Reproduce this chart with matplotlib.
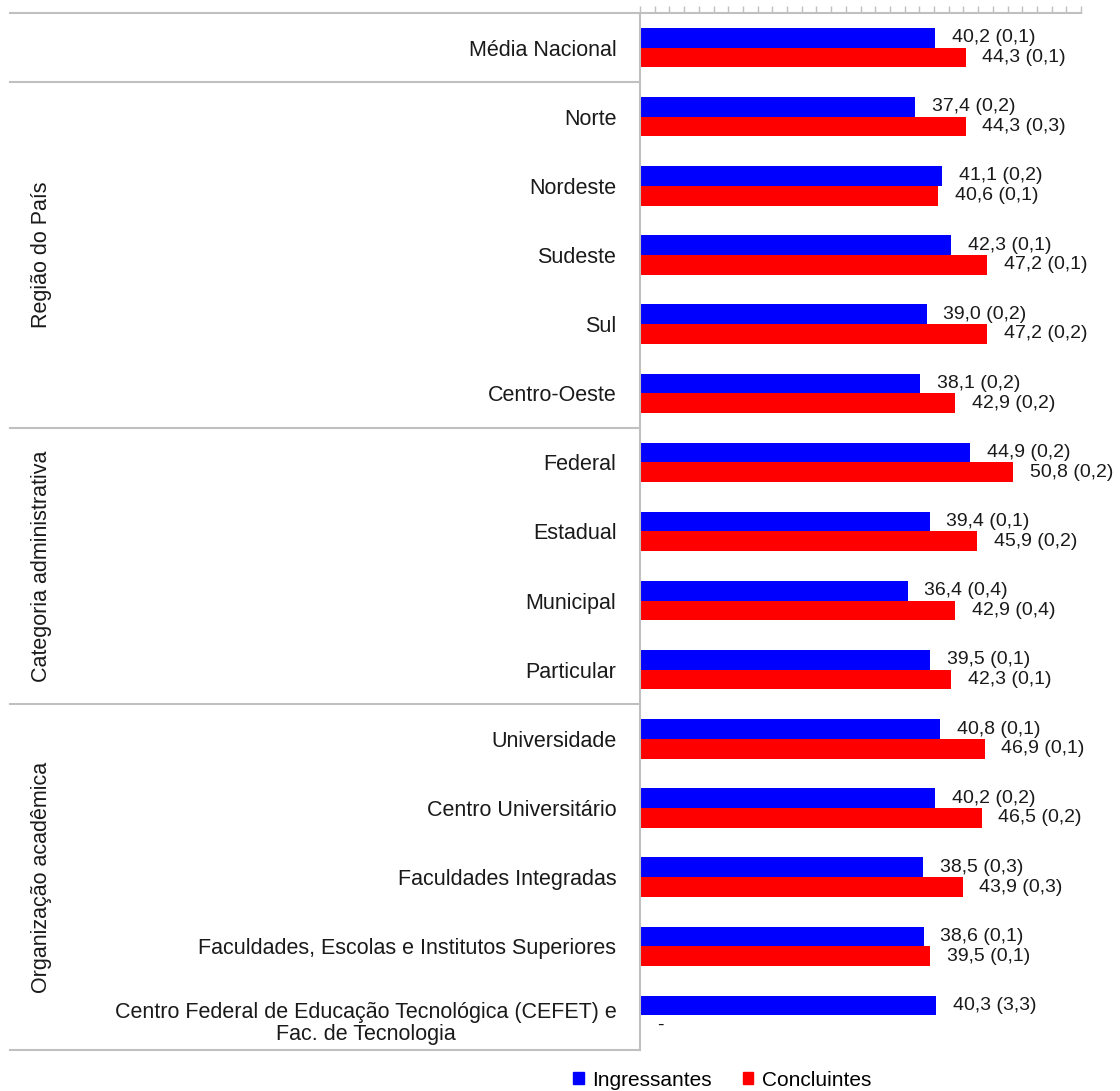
import numpy as np
import matplotlib
matplotlib.use("Agg")
import matplotlib.pyplot as plt
from matplotlib.lines import Line2D
from matplotlib.patches import Patch
import matplotlib.transforms as mtransforms

plt.rcParams['font.family'] = ['Liberation Sans', 'DejaVu Sans']

categories = ["Média Nacional", "Norte", "Nordeste", "Sudeste", "Sul", "Centro-Oeste",
              "Federal", "Estadual", "Municipal", "Particular",
              "Universidade", "Centro Universitário", "Faculdades Integradas",
              "Faculdades, Escolas e Institutos Superiores",
              "Centro Federal de Educação Tecnológica (CEFET) e\nFac. de Tecnologia"]
ingressantes = [40.2, 37.4, 41.1, 42.3, 39.0, 38.1, 44.9, 39.4, 36.4, 39.5, 40.8, 40.2, 38.5, 38.6, 40.3]
ingressantes_ep = [0.1, 0.2, 0.2, 0.1, 0.2, 0.2, 0.2, 0.1, 0.4, 0.1, 0.1, 0.2, 0.3, 0.1, 3.3]
concluintes = [44.3, 44.3, 40.6, 47.2, 47.2, 42.9, 50.8, 45.9, 42.9, 42.3, 46.9, 46.5, 43.9, 39.5, np.nan]
concluintes_ep = [0.1, 0.3, 0.1, 0.1, 0.2, 0.2, 0.2, 0.2, 0.4, 0.1, 0.1, 0.2, 0.3, 0.1, np.nan]
groups = ["Região do País", "Categoria administrativa", "Organização acadêmica"]
group_spans = [(1, 5), (6, 9), (10, 14)]
series_names = ["Ingressantes", "Concluintes"]

FS_CAT = 15.5
FS_VAL = 14
FS_LEG = 15
GRAY = "#c0c0c0"
TXT = "#1a1a1a"
W, H = 1120, 1091
fig = plt.figure(figsize=(W / 100, H / 100), dpi=100)
ax = fig.add_axes([640 / W, 1 - 1050 / H, 441 / W, (1050 - 13) / H])

y = np.arange(len(categories))
bh = 0.285
ax.barh(y - bh / 2, ingressantes, height=bh, color="#0000ff", label=series_names[0])
ax.barh(y + bh / 2, np.nan_to_num(concluintes), height=bh, color="#ff0000", label=series_names[1])


def fmt(v, e):
    if np.isnan(v):
        return "-"
    return f"{v:.1f} ({e:.1f})".replace(".", ",")


for i in range(len(categories)):
    ax.annotate(fmt(ingressantes[i], ingressantes_ep[i]), (ingressantes[i], y[i] - bh / 2),
                xytext=(12, 0), textcoords="offset points", va="center", ha="left",
                fontsize=FS_VAL, color=TXT)
    cv = 0 if np.isnan(concluintes[i]) else concluintes[i]
    ax.annotate(fmt(concluintes[i], concluintes_ep[i]), (cv, y[i] + bh / 2),
                xytext=(12, 0), textcoords="offset points", va="center", ha="left",
                fontsize=FS_VAL, color=TXT)

ax.set_xlim(0, 60)
ax.set_ylim(len(categories) - 0.5, -0.5)
ax.xaxis.tick_top()
ax.set_xticks(np.arange(0, 61, 2))
ax.tick_params(axis="x", length=5, width=1, color=GRAY, labeltop=False, labelbottom=False)
ax.set_yticks(y)
ax.set_yticklabels([c if "\n" not in c else "" for c in categories], fontsize=FS_CAT, color=TXT)
ax.tick_params(axis="y", length=0, pad=17)
# multi-line category label, placed slightly lower like the reference
for i, c in enumerate(categories):
    if "\n" in c:
        ax.annotate(c, xy=(0, y[i]), xycoords=("axes fraction", "data"),
                    xytext=(-17, -6), textcoords="offset points", ha="right", va="center",
                    multialignment="center", linespacing=1.05, fontsize=FS_CAT, color=TXT)
for s in ["bottom", "right"]:
    ax.spines[s].set_visible(False)
for s in ["left", "top"]:
    ax.spines[s].set_color(GRAY)
    ax.spines[s].set_linewidth(1.5)

# separator lines on the left
tr = mtransforms.blended_transform_factory(fig.transFigure, ax.transData)
for yb in [-0.5, 0.5, 5.5, 9.5, len(categories) - 0.5]:
    fig.add_artist(Line2D([10 / W, 640 / W], [yb, yb], transform=tr, color=GRAY, lw=1.5))

for g, (a, b) in zip(groups, group_spans):
    fig.text(42 / W, (a + b) / 2, g, transform=tr, rotation=90, ha="center", va="center",
             fontsize=FS_CAT, color=TXT)

handles = [Patch(color="#0000ff"), Patch(color="#ff0000")]
fig.legend(handles, series_names, loc="center", bbox_to_anchor=(722 / W, 1 - 1080 / H), ncol=2,
           frameon=False, fontsize=FS_LEG, handlelength=0.5, handleheight=0.5, handletextpad=0.4,
           columnspacing=1.5)

fig.savefig("out.png", dpi=100)
